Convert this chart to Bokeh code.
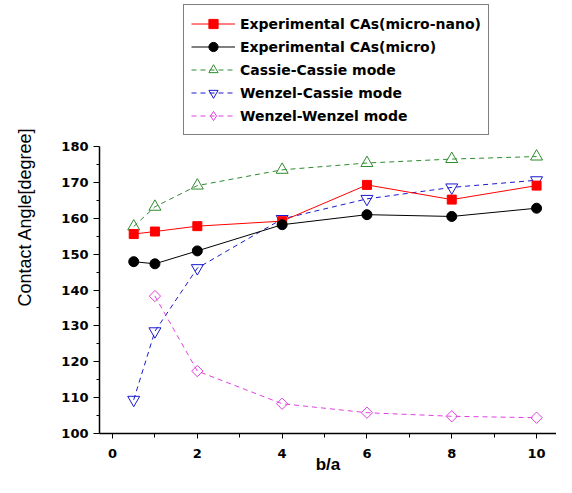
import numpy as np
from bokeh.plotting import figure
from bokeh.models import Range1d, Legend, LegendItem, FixedTicker
from bokeh.embed import file_html
from bokeh.resources import INLINE

# ---- data ----
x_all = [0.5, 1, 2, 4, 6, 8, 10]
exp_micro_nano = [155.6, 156.3, 157.8, 159.2, 169.3, 165.2, 169.1]
exp_micro = [147.9, 147.3, 150.9, 158.2, 161.0, 160.5, 162.8]
cassie_cassie = [157.7, 163.2, 169.1, 173.5, 175.4, 176.5, 177.2]
wenzel_cassie = [109.4, 128.5, 146.1, 159.8, 165.4, 168.6, 170.6]
x_ww = [1, 2, 4, 6, 8, 10]
wenzel_wenzel = [138.3, 117.4, 108.3, 105.8, 104.8, 104.4]

labels = ["Experimental CAs(micro-nano)", "Experimental CAs(micro)",
          "Cassie-Cassie mode", "Wenzel-Cassie mode", "Wenzel-Wenzel mode"]
y_ticks = [100, 110, 120, 130, 140, 150, 160, 170, 180]
y_minor = [105, 115, 125, 135, 145, 155, 165, 175]
x_ticks = [0, 2, 4, 6, 8, 10]
x_minor = [1, 3, 5, 7, 9]

p = figure(width=556, height=477, output_backend="svg", toolbar_location=None,
           x_range=Range1d(-0.307, 10.47), y_range=Range1d(100, 220.7),
           min_border_left=99, min_border_right=0, min_border_top=0,
           min_border_bottom=44)
p.outline_line_color = None
p.xgrid.visible = False
p.ygrid.visible = False
p.background_fill_color = "white"

TICK_FONT = "DejaVu Sans"

xa = p.xaxis[0]
xa.ticker = FixedTicker(ticks=x_ticks, minor_ticks=x_minor)
xa.axis_label = "b/a"
xa.axis_label_text_font = "Liberation Sans"
xa.axis_label_text_font_style = "bold"
xa.axis_label_text_font_size = "17px"
xa.axis_label_text_color = "black"
xa.axis_label_standoff = -6
xa.major_label_text_font = TICK_FONT
xa.major_label_text_font_style = "bold"
xa.major_label_text_font_size = "13px"
xa.major_label_text_color = "black"
xa.major_label_standoff = 10
xa.major_tick_out = 5
xa.major_tick_in = 0
xa.minor_tick_out = 4
xa.minor_tick_in = 0
xa.axis_line_width = 1.5

ya = p.yaxis[0]
ya.ticker = FixedTicker(ticks=y_ticks, minor_ticks=y_minor)
ya.bounds = (100, 180)
ya.axis_label = "Contact Angle[degree]"
ya.axis_label_text_font = "Liberation Sans"
ya.axis_label_text_font_style = "normal"
ya.axis_label_text_font_size = "18px"
ya.axis_label_text_color = "black"
ya.axis_label_standoff = 23
ya.major_label_text_font = TICK_FONT
ya.major_label_text_font_style = "bold"
ya.major_label_text_font_size = "13px"
ya.major_label_text_color = "black"
ya.major_label_standoff = 5
ya.major_tick_out = 6
ya.major_tick_in = 0
ya.minor_tick_out = 3
ya.minor_tick_in = 0
ya.axis_line_width = 1.5

RED = "#FF0000"
BLACK = "#000000"
GREEN = "#2E8B2E"
BLUE = "#1A1ACC"
MAGENTA = "#E040E0"

# dashed model curves first, experimental data on top
l3 = p.line(x_all, cassie_cassie, line_color=GREEN, line_width=1, line_dash="5 4")
m3 = p.scatter(x_all, cassie_cassie, marker="triangle", size=12, fill_color=None, line_color=GREEN, line_width=1)
l4 = p.line(x_all, wenzel_cassie, line_color=BLUE, line_width=1, line_dash="5 4")
m4 = p.scatter(x_all, wenzel_cassie, marker="inverted_triangle", size=12, fill_color=None, line_color=BLUE, line_width=1)
l5 = p.line(x_ww, wenzel_wenzel, line_color=MAGENTA, line_width=1, line_dash="5 4")
m5 = p.scatter(x_ww, wenzel_wenzel, marker="square", angle=np.pi / 4, size=8, fill_color=None, line_color=MAGENTA, line_width=1)
# zero-size copy: draws nothing in the plot, but gives the legend a diamond key
m5_key = p.scatter(x_ww, wenzel_wenzel, marker="diamond", size=0, fill_color=None, line_color=MAGENTA, line_width=1)
l1 = p.line(x_all, exp_micro_nano, line_color=RED, line_width=1)
m1 = p.scatter(x_all, exp_micro_nano, marker="square", size=9, fill_color=RED, line_color=RED)
l2 = p.line(x_all, exp_micro, line_color=BLACK, line_width=1)
m2 = p.scatter(x_all, exp_micro, marker="circle", size=10, fill_color=BLACK, line_color=BLACK)

legend = Legend(items=[
    LegendItem(label=labels[0], renderers=[l1, m1]),
    LegendItem(label=labels[1], renderers=[l2, m2]),
    LegendItem(label=labels[2], renderers=[l3, m3]),
    LegendItem(label=labels[3], renderers=[l4, m4]),
    LegendItem(label=labels[4], renderers=[l5, m5_key]),
], location=(84, 298))
legend.label_text_font = TICK_FONT
legend.label_text_font_style = "bold"
legend.label_text_font_size = "14px"
legend.label_text_color = "black"
legend.glyph_width = 44
legend.glyph_height = 23
legend.label_height = 23
legend.spacing = 0
legend.padding = 7
legend.margin = 0
legend.label_standoff = 5
legend.border_line_color = "black"
legend.border_line_width = 1.5
legend.background_fill_color = "white"
legend.background_fill_alpha = 1
p.add_layout(legend, "center")

open("out.html", "w").write(file_html(p, INLINE))
